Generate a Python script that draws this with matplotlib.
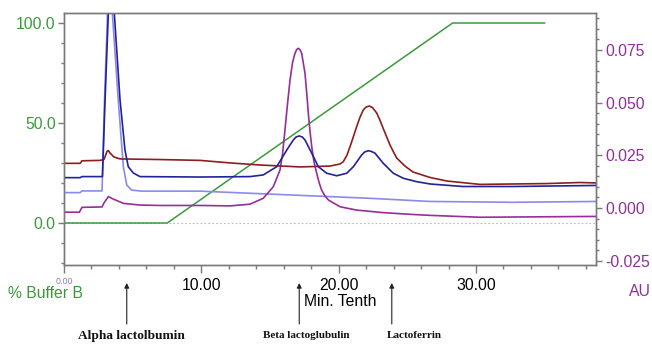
import matplotlib
matplotlib.use("Agg")
import matplotlib.pyplot as plt
from matplotlib.ticker import MultipleLocator, FixedLocator
from matplotlib.transforms import blended_transform_factory

# ---------------- data ----------------
# Gradient, % Buffer B (left axis)
grad_t = [0.0, 7.52, 28.3, 35.0]
grad_pct = [0.0, 0.0, 100.0, 100.0]

# Absorbance traces, AU (right axis); time in minutes
red_t = [0.0, 1.17, 1.31, 2.62, 2.91, 3.13, 3.23, 3.35, 3.64, 4.08, 6.99, 9.90,
         12.09, 14.27, 17.18, 19.37, 20.10, 20.34, 20.60, 20.83, 21.07, 21.31,
         21.55, 21.79, 21.99, 22.23, 22.46, 22.77, 23.00, 23.23, 23.50, 23.74,
         24.00, 24.23, 24.83, 25.41, 26.65, 27.89, 30.29, 32.69, 35.17, 37.57,
         38.74]
red_au = [0.0212, 0.0212, 0.0224, 0.0226, 0.0230, 0.0268, 0.0273, 0.0261, 0.0242,
          0.0233, 0.0230, 0.0226, 0.0214, 0.0204, 0.0195, 0.0199, 0.0209, 0.0220,
          0.0250, 0.0291, 0.0338, 0.0386, 0.0430, 0.0465, 0.0479, 0.0484, 0.0477,
          0.0451, 0.0418, 0.0380, 0.0337, 0.0299, 0.0265, 0.0237, 0.0199, 0.0171,
          0.0145, 0.0128, 0.0112, 0.0114, 0.0116, 0.0121, 0.0119]

navy_t = [0.0, 1.17, 1.31, 2.80, 2.99, 3.23, 3.42, 3.66, 4.08, 4.44, 4.68, 5.05,
          5.53, 9.90, 13.54, 14.51, 15.49, 16.22, 16.70, 16.90, 17.13, 17.35,
          17.55, 18.04, 18.52, 19.13, 19.86, 20.59, 21.07, 21.68, 21.90, 22.16,
          22.40, 22.65, 23.25, 23.98, 24.71, 25.68, 26.65, 29.05, 32.69, 38.74]
navy_au = [0.0144, 0.0144, 0.0149, 0.0149, 0.0513, 0.0926, 0.1011, 0.0926, 0.0513,
           0.0275, 0.0196, 0.0166, 0.0149, 0.0147, 0.0149, 0.0157, 0.0196, 0.0275,
           0.0323, 0.0337, 0.0342, 0.0337, 0.0323, 0.0260, 0.0196, 0.0165, 0.0153,
           0.0165, 0.0196, 0.0252, 0.0266, 0.0272, 0.0268, 0.0260, 0.0212, 0.0165,
           0.0141, 0.0125, 0.0114, 0.0102, 0.0102, 0.0107]

light_t = [0.0, 1.17, 1.31, 2.77, 2.95, 3.17, 3.35, 3.52, 3.95, 4.32, 4.57, 4.93,
           5.66, 9.90, 13.54, 17.91, 22.28, 26.65, 32.69, 38.74]
light_au = [0.0073, 0.0073, 0.0081, 0.0081, 0.0513, 0.0926, 0.0997, 0.0926, 0.0513,
            0.0196, 0.0109, 0.0085, 0.0080, 0.0080, 0.0070, 0.0058, 0.0046, 0.0031,
            0.0027, 0.0031]

purple_t = [0.0, 1.12, 1.31, 2.77, 2.91, 3.23, 3.57, 4.32, 5.53, 6.99, 9.90, 12.09,
            13.54, 14.51, 15.24, 15.73, 15.92, 16.09, 16.27, 16.46, 16.64, 16.82,
            16.94, 17.06, 17.18, 17.31, 17.55, 17.67, 17.79, 17.92, 18.04, 18.20,
            18.40, 18.58, 18.76, 19.00, 19.25, 20.10, 21.31, 23.25, 25.19, 26.65,
            30.29, 38.74]
purple_au = [-0.0020, -0.0020, 0.0003, 0.0005, 0.0024, 0.0054, 0.0043, 0.0022,
             0.0014, 0.0012, 0.0012, 0.0010, 0.0018, 0.0046, 0.0101, 0.0180, 0.0260,
             0.0370, 0.0490, 0.0608, 0.0690, 0.0734, 0.0752, 0.0758, 0.0752, 0.0734,
             0.0639, 0.0550, 0.0450, 0.0360, 0.0291, 0.0220, 0.0165, 0.0120, 0.0085,
             0.0058, 0.0038, 0.0006, -0.0010, -0.0022, -0.0030, -0.0035, -0.0044,
             -0.0040]

x_major = [0, 10, 20, 30]
x_labels = ["0.00", "10.00", "20.00", "30.00"]
left_ticks = [0, 50, 100]
left_labels = ["0.0", "50.0", "100.0"]
right_ticks = [-0.025, 0.0, 0.025, 0.050, 0.075]
right_labels = ["-0.025", "0.000", "0.025", "0.050", "0.075"]

peak_names = ["Alpha lactolbumin", "Beta lactoglubulin", "Lactoferrin"]
peak_arrow_t = [4.57, 17.13, 23.87]

# ---------------- style ----------------
plt.rcParams['font.family'] = ['Liberation Sans', 'DejaVu Sans']
GREEN = '#3a9a3a'
PURPLE_TXT = '#8e2f9a'
SPINE = '#7a7a7a'
W, H = 652, 344

fig = plt.figure(figsize=(W / 100, H / 100), dpi=100)
ax = fig.add_axes([64 / W, 1 - 265 / H, (596 - 64) / W, (265 - 13) / H])
ax2 = ax.twinx()

ax.set_xlim(0, 38.74)
ax.set_ylim(-21, 105)
ax2.set_ylim(-0.02706, 0.09256)

# zero baseline + gradient
ax.axhline(0, color='#bbbbbb', lw=0.8, ls=(0, (1.5, 2)))
ax.plot(grad_t, grad_pct, color=GREEN, lw=1.1)

# traces
lw = 1.2
ax2.plot(light_t, light_au, color='#8a8aec', lw=lw)
ax2.plot(purple_t, purple_au, color='#982d98', lw=lw)
ax2.plot(red_t, red_au, color='#8b1e1e', lw=lw)
ax2.plot(navy_t, navy_au, color='#22229a', lw=lw)

for a in (ax, ax2):
    for s in a.spines.values():
        s.set_color(SPINE)
        s.set_linewidth(1.0)

# x ticks
ax.xaxis.set_major_locator(FixedLocator(x_major))
ax.set_xticklabels(x_labels)
ax.xaxis.set_minor_locator(MultipleLocator(2))
ax.tick_params(axis='x', which='major', length=6, width=1, color=SPINE, pad=3,
               labelsize=11.3, labelcolor='black')
ax.tick_params(axis='x', which='minor', length=3, width=1, color=SPINE)
lab0 = ax.get_xticklabels()[0]
lab0.set_fontsize(6.4)
lab0.set_color('#8a80a8')

# left y ticks
ax.yaxis.set_major_locator(FixedLocator(left_ticks))
ax.set_yticklabels(left_labels)
ax.yaxis.set_minor_locator(MultipleLocator(10))
ax.tick_params(axis='y', which='major', length=4.5, width=1, color=SPINE, pad=1.5,
               labelsize=11.3, labelcolor=GREEN)
ax.tick_params(axis='y', which='minor', length=2, width=1, color=SPINE)

# right y ticks
ax2.yaxis.set_major_locator(FixedLocator(right_ticks))
ax2.set_yticklabels(right_labels)
ax2.yaxis.set_minor_locator(MultipleLocator(0.005))
ax2.tick_params(axis='y', which='major', length=4, width=1, color=SPINE, pad=3,
                labelsize=11.3, labelcolor=PURPLE_TXT)
ax2.tick_params(axis='y', which='minor', length=2.5, width=1, color=SPINE)

# axis titles
fig.text(8 / W, 1 - 294 / H, "% Buffer B", color=GREEN, fontsize=11.3,
         ha='left', va='center')
fig.text(340 / W, 1 - 301 / H, "Min. Tenth", color='black', fontsize=11.3,
         ha='center', va='center')
fig.text(629 / W, 1 - 291 / H, "AU", color=PURPLE_TXT, fontsize=11.3,
         ha='left', va='center')

# peak annotations
tr = blended_transform_factory(ax.transData, fig.transFigure)
label_offsets = [0.34, 0.49, 1.62]
label_sizes = [9.6, 8.0, 8.0]
for name, t, off, fs in zip(peak_names, peak_arrow_t, label_offsets, label_sizes):
    ax.annotate('', xy=(t, 1 - 283 / H), xycoords=tr,
                xytext=(t, 1 - 324 / H), textcoords=tr,
                arrowprops=dict(arrowstyle='-|>', color='#222222', lw=0.8,
                                mutation_scale=7, shrinkA=0, shrinkB=0),
                annotation_clip=False)
    ax.text(t + off, 1 - 336 / H, name, transform=tr, ha='center', va='center',
            fontsize=fs, fontweight='bold', family=['Liberation Serif', 'DejaVu Serif'],
            color='#111111')

fig.savefig("out.png", dpi=100)
